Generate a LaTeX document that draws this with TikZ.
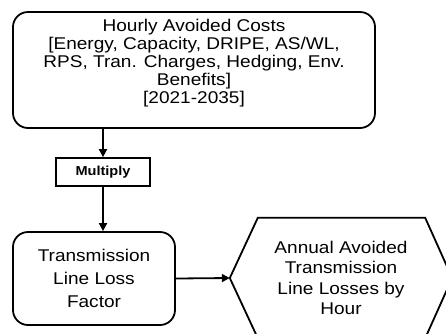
\documentclass[tikz,border=0pt]{standalone}
\usepackage{fontspec}
\setmainfont{Liberation Sans}[FakeStretch=1.12]
\usetikzlibrary{arrows.meta}
\begin{document}
\begin{tikzpicture}[x=1pt,y=-1pt,
  boxline/.style={draw=black,line width=1.8pt},
  bigbox/.style={boxline,rounded corners=15pt,minimum width=362pt,minimum height=116pt,inner sep=0pt},
  tbox/.style={boxline,rounded corners=15pt,minimum width=162pt,minimum height=93pt,inner sep=0pt,align=center,font=\fontsize{17}{23}\selectfont},
  mulbox/.style={boxline,minimum width=94pt,minimum height=28pt,inner sep=0pt,font=\fontsize{13}{15}\selectfont\bfseries},
  txt/.style={align=center,inner sep=0pt},
  conn/.style={line width=1.8pt,-{Triangle[length=8pt,width=8pt]}}
]
\useasboundingbox (0,0) rectangle (446,333);
\clip (0,0) rectangle (446,333);
\node[bigbox] (costs) at (194,70) {};
\node[txt,font=\fontsize{17}{18.2}\selectfont] (coststext) at (194,63)
  {Hourly Avoided Costs\\ {[}Energy, Capacity, DRIPE, AS/WL,\\ RPS, Tran. Charges, Hedging, Env.\\ Benefits{]}\\ {[}2021-2035{]}};
\node[mulbox] (mul) at (103,172) {Multiply};
\node[tbox] (trans) at (94,278.5) {Transmission\\ Line Loss\\ Factor};
\node[txt,minimum width=222pt,minimum height=120pt,font=\fontsize{17}{20.5}\selectfont] (hex) at (341,278)
  {Annual Avoided\\ Transmission\\ Line Losses by\\ Hour};
\draw[boxline] (hex.west) -- ([xshift=28pt]hex.north west) -- ([xshift=-27pt]hex.north east)
  -- (hex.east) -- ([xshift=-27pt]hex.south east) -- ([xshift=28pt]hex.south west) -- cycle;
\draw[conn] (costs.south -| mul.north) -- (mul.north);
\draw[conn] (mul.south) -- (mul.south |- trans.north);
\draw[conn] (trans.east) -- (hex.west);
\end{tikzpicture}
\end{document}
